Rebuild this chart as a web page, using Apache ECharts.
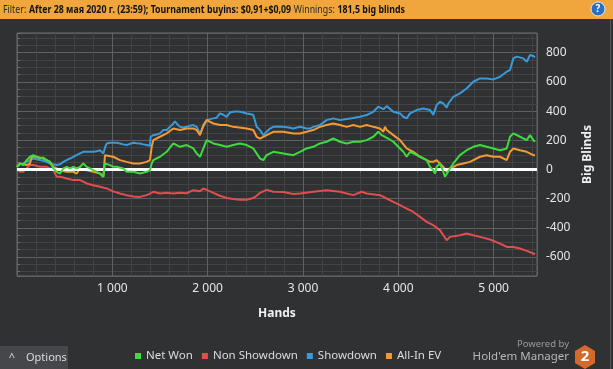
<!DOCTYPE html>
<html><head><meta charset="utf-8">
<script src="https://cdn.jsdelivr.net/npm/echarts@6/dist/echarts.min.js"></script>
<style>html,body{margin:0;padding:0;background:#2f3133;overflow:hidden}#c{width:613px;height:369px}</style>
</head><body><div id="c"></div><script>
const seriesNames = ['Net Won', 'Non Showdown', 'Showdown', 'All-In EV'];
const xTicks = [1000, 2000, 3000, 4000, 5000];
const yTicks = [-600, -400, -200, 0, 200, 400, 600, 800];

const showdown = [[0,18],[31,35],[66,41],[101,52],[136,64],[171,75],[206,70],[241,64],[276,60],[311,52],[346,41],[381,35],[416,30],[451,35],[486,52],[521,64],[556,75],[591,87],[626,98],[661,110],[696,121],[731,121],[766,121],[801,121],[836,125],[871,132],[906,110],[923,150],[941,178],[976,183],[1010,183],[1045,183],[1080,178],[1115,172],[1150,167],[1185,175],[1220,183],[1255,180],[1290,178],[1325,172],[1360,167],[1395,162],[1402,224],[1430,235],[1465,240],[1500,247],[1535,270],[1570,270],[1605,292],[1640,315],[1658,330],[1675,315],[1710,292],[1745,288],[1780,292],[1815,300],[1850,304],[1885,292],[1920,247],[1955,292],[1990,338],[2025,345],[2060,350],[2095,355],[2129,384],[2164,375],[2199,361],[2234,390],[2269,395],[2304,398],[2339,395],[2374,390],[2409,384],[2444,380],[2479,373],[2497,361],[2514,292],[2549,270],[2584,235],[2619,258],[2654,280],[2689,292],[2740,295],[2794,292],[2850,288],[2899,281],[2969,292],[3038,281],[3073,280],[3108,292],[3178,304],[3248,338],[3318,350],[3388,338],[3458,345],[3528,352],[3598,361],[3668,373],[3738,395],[3790,430],[3843,413],[3878,434],[3895,430],[3948,395],[4018,384],[4053,361],[4088,350],[4123,384],[4193,407],[4263,418],[4333,407],[4367,373],[4385,361],[4402,441],[4437,464],[4472,452],[4507,424],[4525,452],[4577,498],[4647,521],[4717,555],[4787,601],[4857,624],[4927,624],[4997,617],[5067,635],[5137,670],[5172,681],[5207,761],[5242,773],[5312,761],[5347,738],[5382,784],[5399,795],[5417,777],[5434,768]];

const allInEV = [[0,18],[31,41],[66,35],[101,30],[136,41],[154,87],[171,98],[206,87],[276,75],[311,64],[346,52],[381,18],[416,7],[451,-5],[521,-16],[591,-16],[626,-28],[661,7],[731,-5],[801,-16],[871,-28],[906,-50],[923,98],[941,110],[1010,87],[1080,64],[1150,52],[1220,41],[1290,41],[1360,52],[1395,64],[1413,155],[1430,201],[1500,224],[1570,247],[1640,281],[1710,270],[1780,281],[1850,281],[1885,270],[1920,235],[1955,304],[1990,338],[2060,315],[2129,304],[2199,304],[2269,292],[2409,281],[2479,270],[2514,224],[2549,212],[2619,235],[2689,258],[2794,258],[2899,247],[2969,247],[3038,258],[3108,270],[3178,292],[3248,304],[3318,315],[3388,304],[3458,292],[3528,304],[3598,292],[3668,304],[3738,292],[3808,281],[3843,258],[3860,292],[3878,270],[3948,235],[4018,201],[4088,144],[4158,121],[4228,87],[4298,64],[4333,52],[4367,52],[4402,64],[4437,41],[4472,18],[4507,-16],[4542,7],[4577,18],[4612,30],[4682,41],[4752,52],[4857,87],[4927,98],[4997,87],[5067,87],[5137,64],[5172,121],[5207,144],[5277,132],[5347,121],[5417,98],[5434,98]];

const netWon = [[0,18],[31,41],[66,30],[101,64],[136,87],[171,98],[206,87],[241,75],[276,82],[311,64],[346,52],[381,7],[416,-16],[451,-28],[486,7],[521,18],[556,7],[591,18],[626,7],[661,18],[696,41],[731,18],[766,7],[801,-5],[836,-16],[871,-28],[906,-50],[923,41],[941,52],[976,30],[1010,18],[1045,18],[1115,7],[1150,-16],[1220,-16],[1290,-28],[1360,-16],[1395,-5],[1413,41],[1430,64],[1500,87],[1570,121],[1640,178],[1675,167],[1710,155],[1780,167],[1850,144],[1885,110],[1920,87],[1955,144],[1990,201],[2060,178],[2129,167],[2199,155],[2269,167],[2339,178],[2409,167],[2479,144],[2514,110],[2549,75],[2584,64],[2619,98],[2689,121],[2794,110],[2899,98],[2969,121],[3038,144],[3108,155],[3178,178],[3248,190],[3318,212],[3388,190],[3458,178],[3528,190],[3598,190],[3668,201],[3738,224],[3790,258],[3825,235],[3860,224],[3895,212],[3948,190],[4018,144],[4053,121],[4088,87],[4123,121],[4158,110],[4228,87],[4298,64],[4333,18],[4367,-5],[4385,-28],[4402,18],[4437,41],[4472,-16],[4490,-50],[4507,-39],[4542,7],[4577,41],[4647,98],[4717,132],[4787,155],[4857,167],[4927,155],[4997,144],[5067,132],[5137,144],[5172,224],[5207,247],[5277,224],[5347,201],[5382,235],[5417,201],[5434,190]];

const nonShowdown = [[0,7],[31,-16],[66,-16],[101,7],[136,30],[171,30],[241,18],[311,18],[381,-5],[416,-50],[451,-50],[521,-62],[591,-73],[661,-73],[731,-96],[801,-108],[871,-119],[941,-130],[1010,-150],[1080,-165],[1150,-176],[1220,-185],[1290,-188],[1360,-176],[1395,-165],[1430,-153],[1500,-165],[1570,-160],[1640,-165],[1710,-160],[1780,-163],[1850,-142],[1920,-150],[1955,-130],[1990,-140],[2060,-160],[2129,-180],[2199,-195],[2269,-202],[2339,-208],[2409,-208],[2479,-195],[2514,-180],[2549,-160],[2619,-140],[2689,-153],[2794,-155],[2899,-168],[2969,-165],[3108,-153],[3248,-142],[3388,-153],[3528,-176],[3615,-153],[3668,-165],[3808,-176],[3878,-199],[3948,-222],[4018,-245],[4088,-268],[4158,-291],[4228,-325],[4298,-359],[4367,-382],[4437,-416],[4507,-485],[4542,-462],[4647,-451],[4717,-439],[4787,-451],[4857,-462],[4962,-480],[5067,-508],[5137,-531],[5207,-531],[5277,-542],[5347,-558],[5417,-576],[5434,-581]];

const colors = {'Net Won':'#3ddc3d','Non Showdown':'#e24e4e','Showdown':'#3a9ad9','All-In EV':'#f39a33'};
const FONT = 'Noto Sans';
const chart = echarts.init(document.getElementById('c'), null, {renderer:'canvas'});

function lineSeries(name, data, z, extra) {
  return Object.assign({
    name, type:'line', data, showSymbol:false, symbol:'none', z,
    lineStyle:{width:2, color:colors[name]}, itemStyle:{color:colors[name]}
  }, extra || {});
}

chart.setOption({
  animation:false,
  backgroundColor:'#2f3133',
  grid:{left:17, right:76, top:33, bottom:93, show:true, borderColor:'#6a6c6f', borderWidth:1, backgroundColor:'transparent'},
  legend:{data:seriesNames, left:135, top:350, padding:0, icon:'rect', itemWidth:6, itemHeight:6, itemGap:9,
    textStyle:{color:'#dcdcdc', fontSize:11.5, fontFamily:FONT}},
  xAxis:{type:'value', min:0, max:5455, interval:1000,
    name:'Hands', nameLocation:'middle', nameGap:32,
    nameTextStyle:{color:'#f0f0f0', fontWeight:'bold', fontSize:12, fontFamily:FONT},
    axisLine:{show:false},
    axisTick:{show:true, length:3, lineStyle:{color:'#6a6c6f'}},
    minorTick:{show:true, splitNumber:5, length:3, lineStyle:{color:'#6a6c6f'}},
    splitLine:{show:true, lineStyle:{color:'#5e6063'}},
    minorSplitLine:{show:true, lineStyle:{color:'#414346'}},
    axisLabel:{color:'#e6e6e6', fontSize:12, fontFamily:FONT, margin:7,
      formatter:v => xTicks.includes(v) ? (v/1000) + ' 000' : ''}
  },
  yAxis:{type:'value', position:'right', min:-730, max:935, splitNumber:8,
    name:'Big Blinds', nameLocation:'middle', nameGap:35, nameRotate:90,
    nameTextStyle:{color:'#f0f0f0', fontWeight:'bold', fontSize:12, fontFamily:FONT},
    axisLine:{show:false},
    axisTick:{show:true, length:3, lineStyle:{color:'#6a6c6f'}},
    minorTick:{show:true, splitNumber:4, length:3, lineStyle:{color:'#6a6c6f'}},
    splitLine:{show:true, lineStyle:{color:'#5e6063'}},
    minorSplitLine:{show:true, lineStyle:{color:'#414346'}},
    axisLabel:{color:'#e6e6e6', fontSize:12, fontFamily:FONT, margin:9,
      formatter:v => yTicks.includes(v) ? String(v) : ''}
  },
  series:[
    lineSeries('Non Showdown', nonShowdown, 2),
    lineSeries('Showdown', showdown, 3),
    lineSeries('All-In EV', allInEV, 4),
    lineSeries('Net Won', netWon, 5, {
      markLine:{silent:true, symbol:'none', animation:false, label:{show:false},
        lineStyle:{color:'#ffffff', width:3, type:'solid'}, data:[{yAxis:0}]}
    })
  ],
  graphic:[
    {type:'rect', shape:{x:0, y:0, width:613, height:19}, style:{fill:'#f0a63c'}, z:10},
    {type:'text', x:3, y:10, scaleX:0.8, z:11, style:{
      text:'{n|Filter:} {b|After 28 мая 2020 г. (23:59); Tournament buyins: $0,91+$0,09} {n|Winnings:} {b|181,5 big blinds}',
      verticalAlign:'middle', rich:{
        n:{fontSize:11, fontFamily:FONT, fill:'#2a2a2a'},
        b:{fontSize:11, fontFamily:FONT, fontWeight:'bold', fill:'#111'}
      }}},
    {type:'circle', shape:{cx:598, cy:9, r:7}, style:{fill:'#2b6fc0', stroke:'#dfe8f5', lineWidth:1}, z:11},
    {type:'text', x:598, y:9, z:12, style:{text:'?', fill:'#fff', font:'bold 10px "Noto Sans"', align:'center', verticalAlign:'middle'}},
    {type:'rect', shape:{x:610, y:19, width:1, height:350}, style:{fill:'#55575a'}, z:1},
    {type:'rect', shape:{x:0, y:346, width:68, height:23}, style:{fill:'#45474a'}, z:1},
    {type:'text', x:12, y:358, z:2, style:{text:'^', fill:'#dcdcdc', font:'11px "Noto Sans"', align:'center', verticalAlign:'middle'}},
    {type:'text', x:26, y:358, z:2, style:{text:'Options', fill:'#dcdcdc', font:'11px "Noto Sans"', verticalAlign:'middle'}},
    {type:'text', x:569, y:344, z:2, style:{text:'Powered by', fill:'#9a9a9a', font:'9.5px "Noto Sans"', align:'right', verticalAlign:'middle'}},
    {type:'text', x:569, y:357, z:2, style:{text:"Hold'em Manager", fill:'#b8b8b8', font:'11.5px "Noto Sans"', align:'right', verticalAlign:'middle'}},
    {type:'polygon', z:2, shape:{points:[[585,345],[595,351],[595,363],[585,369],[575,363],[575,351]]}, style:{fill:'#d5692a'}},
    {type:'text', x:585, y:357, z:3, style:{text:'2', fill:'#fff', font:'bold 15px "Noto Sans"', align:'center', verticalAlign:'middle'}}
  ]
});
</script></body></html>
